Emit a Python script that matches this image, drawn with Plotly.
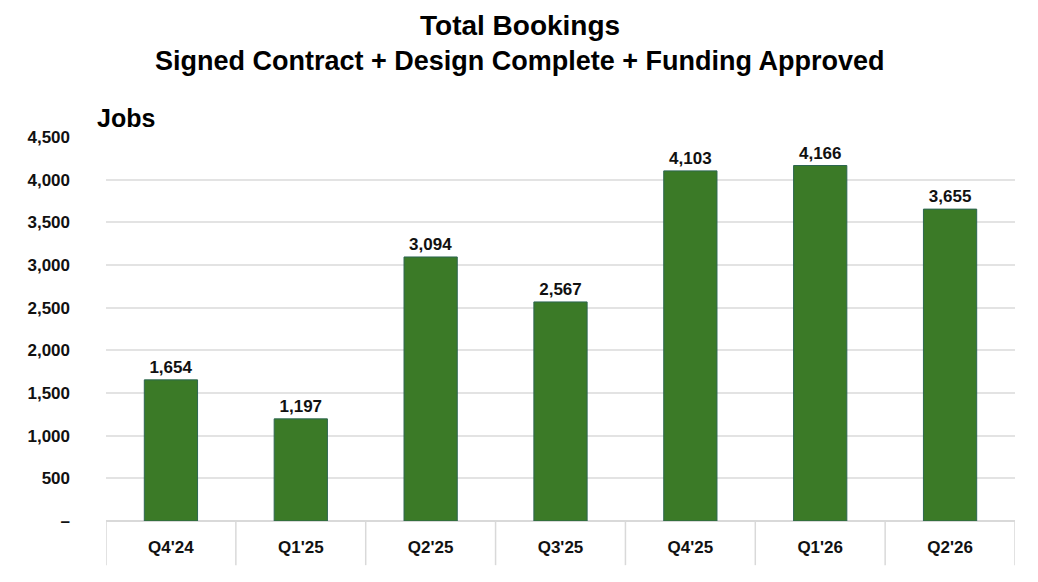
import plotly.graph_objects as go

categories = ["Q4'24", "Q1'25", "Q2'25", "Q3'25", "Q4'25", "Q1'26", "Q2'26"]
values = [1654, 1197, 3094, 2567, 4103, 4166, 3655]
tick_vals = [0, 500, 1000, 1500, 2000, 2500, 3000, 3500, 4000, 4500]
tick_text = ["–", "500", "1,000", "1,500", "2,000", "2,500", "3,000", "3,500", "4,000", "4,500"]

font = "Liberation Sans Narrow, Arial Narrow, Liberation Sans, Arial, sans-serif"

fig = go.Figure()
fig.add_trace(go.Bar(
    x=list(range(len(categories))), y=values,
    marker=dict(color="#3B7A27", line=dict(color="#2C6650", width=1)),
    width=0.41,
    text=[f"<b>{v:,}</b>" for v in values], textposition="outside",
    textfont=dict(family=font, size=17, color="#111111"),
    cliponaxis=False,
))

shapes = []
for i in range(len(categories) + 1):
    shapes.append(dict(type="line", xref="x", yref="paper", x0=i - 0.5, x1=i - 0.5,
                       y0=0, y1=-0.115, line=dict(color="#D9D9D9", width=1.5)))

fig.update_layout(
    width=1038, height=582,
    margin=dict(l=106, r=23, t=137, b=61),
    plot_bgcolor="white", paper_bgcolor="white",
    showlegend=False,
    shapes=shapes,
    xaxis=dict(
        tickmode="array", tickvals=list(range(len(categories))),
        ticktext=[f"<b>{c}</b>" for c in categories],
        range=[-0.5, len(categories) - 0.5],
        showgrid=False, zeroline=False, showline=False,
        tickfont=dict(family=font, size=17, color="#111111"),
        ticks="", ticklabelstandoff=14,
    ),
    yaxis=dict(
        range=[0, 4500], tickmode="array", tickvals=tick_vals,
        ticktext=[f"<b>{t}</b>" for t in tick_text],
        showgrid=True, gridcolor="#E3E3E3", gridwidth=1.5,
        zeroline=True, zerolinecolor="#D9D9D9", zerolinewidth=1.5,
        tickfont=dict(family=font, size=17, color="#111111"),
        ticks="", ticklabelstandoff=35,
    ),
)
fig.add_annotation(text="<b>Total Bookings</b>", xref="paper", yref="paper", x=0.5,
                   xshift=-41, y=1.0, yshift=112, yanchor="middle", showarrow=False,
                   font=dict(family=font, size=28, color="#000"))
fig.add_annotation(text="<b>Signed Contract + Design Complete + Funding Approved</b>",
                   xref="paper", yref="paper", x=0.5, xshift=-41, y=1.0, yshift=76,
                   yanchor="middle", showarrow=False,
                   font=dict(family=font, size=27, color="#000"))
fig.add_annotation(text="<b>Jobs</b>", xref="paper", yref="paper", x=0, xshift=-11,
                   y=1.0, yshift=19, xanchor="left", yanchor="middle", showarrow=False,
                   font=dict(family="Liberation Sans, Arial, sans-serif", size=25, color="#000"))

fig.write_html("out.html")
